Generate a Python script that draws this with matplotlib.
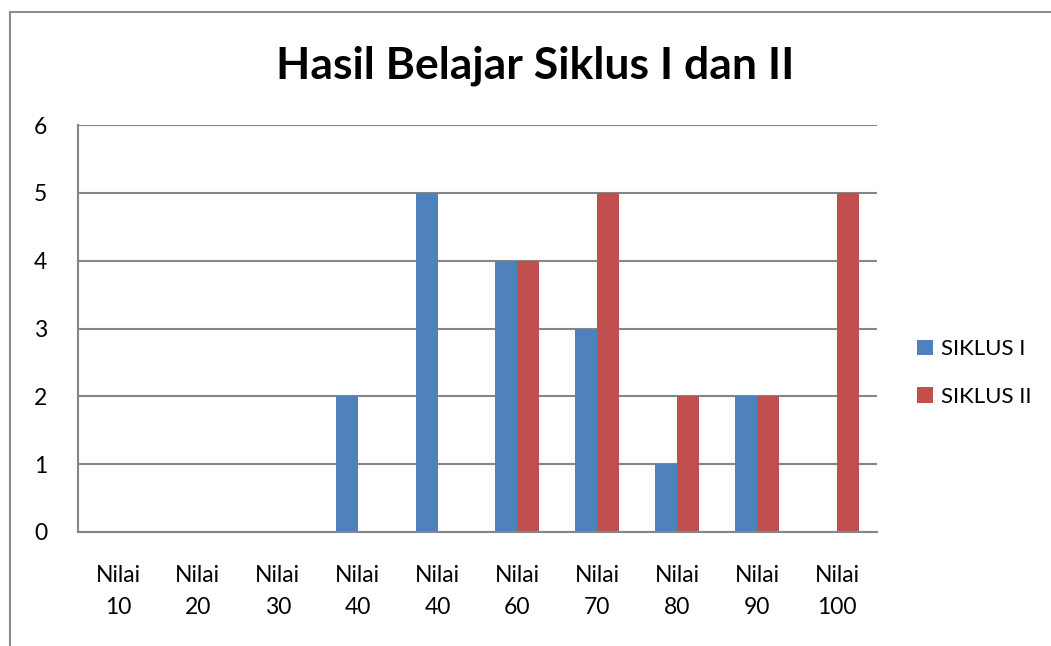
import matplotlib
matplotlib.use("Agg")
import matplotlib.pyplot as plt
import numpy as np
from matplotlib.patches import Rectangle

categories = ["Nilai\n10", "Nilai\n20", "Nilai\n30", "Nilai\n40", "Nilai\n40",
              "Nilai\n60", "Nilai\n70", "Nilai\n80", "Nilai\n90", "Nilai\n100"]
siklus1 = [0, 0, 0, 2, 5, 4, 3, 1, 2, 0]
siklus2 = [0, 0, 0, 0, 0, 4, 5, 2, 2, 5]
yticks = [0, 1, 2, 3, 4, 5, 6]

plt.rcParams['font.family'] = ['Lato', 'DejaVu Sans']

W, H = 1051, 646
fig = plt.figure(figsize=(W / 100, H / 100), dpi=100)
fig.patches.append(Rectangle((10 / W, -0.1), 1.2, 1 - 12 / H + 0.1,
                             transform=fig.transFigure, fill=False,
                             edgecolor="#8c8c8c", linewidth=1.5))

ax = fig.add_axes([78 / W, 1 - 532 / H, (877 - 78) / W, (532 - 125) / H])
x = np.arange(len(categories))
bw = 0.275
grid_c = "#868686"
ax.bar(x - bw / 2, siklus1, bw, color="#4F81BD", label="SIKLUS I", zorder=3)
ax.bar(x + bw / 2, siklus2, bw, color="#C0504D", label="SIKLUS II", zorder=3)

ax.set_xlim(-0.5, len(categories) - 0.5)
ax.set_ylim(0, 6)
ax.set_yticks(yticks)
ax.set_xticks(x)
ax.set_xticklabels(categories, fontsize=16.5, linespacing=1.62)
ax.tick_params(axis="both", length=0, labelsize=16.5)
ax.tick_params(axis="y", pad=22)
ax.tick_params(axis="x", pad=24)
ax.yaxis.grid(True, color=grid_c, linewidth=1.5, zorder=0)
for s in ["top", "right"]:
    ax.spines[s].set_visible(False)
for s in ["left", "bottom"]:
    ax.spines[s].set_color(grid_c)
    ax.spines[s].set_linewidth(1.5)
ax.spines["bottom"].set_zorder(4)

fig.text(535 / W, 1 - 66 / H, "Hasil Belajar Siklus I dan II", ha="center",
         va="center", fontsize=32, fontweight="bold")

leg = ax.legend(loc="center left", bbox_to_anchor=(897 / W, 1 - 373 / H),
                bbox_transform=fig.transFigure, frameon=False, fontsize=16,
                handlelength=0.7, handleheight=0.7, handletextpad=0.4,
                labelspacing=1.25)

fig.savefig("out.png", dpi=100)
